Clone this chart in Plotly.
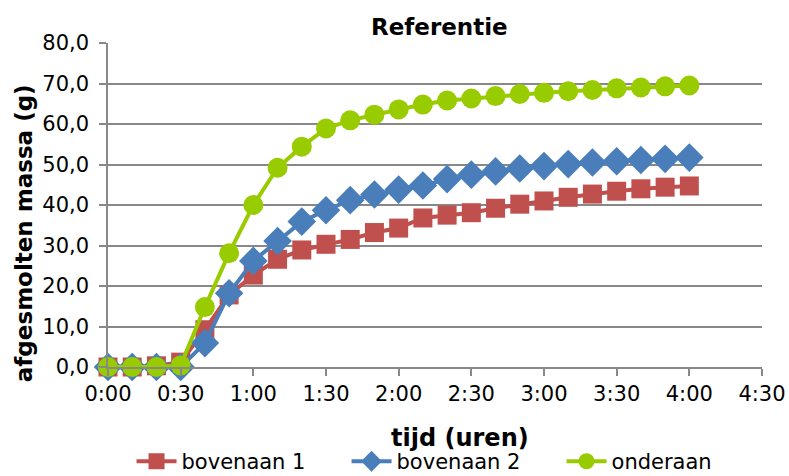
import plotly.graph_objects as go

minutes = [0, 10, 20, 30, 40, 50, 60, 70, 80, 90, 100, 110, 120,
           130, 140, 150, 160, 170, 180, 190, 200, 210, 220, 230, 240]

bovenaan_1 = [0.0, 0.0, 0.3, 1.2, 9.2, 17.8, 22.7, 26.6, 28.9, 30.3, 31.5, 33.2, 34.3,
              36.8, 37.5, 38.1, 39.2, 40.2, 41.0, 41.9, 42.7, 43.4, 44.0, 44.4, 44.7]
bovenaan_2 = [0.0, 0.0, 0.0, 0.0, 5.9, 18.2, 26.2, 31.1, 35.9, 38.7, 41.2, 42.6, 43.8,
              44.8, 46.4, 47.5, 48.3, 49.0, 49.6, 50.1, 50.5, 50.8, 51.1, 51.4, 51.7]
onderaan = [0.0, 0.0, 0.0, 0.4, 14.8, 28.1, 40.0, 49.2, 54.4, 58.9, 60.9, 62.3, 63.6,
            64.8, 65.8, 66.3, 66.9, 67.4, 67.7, 68.1, 68.4, 68.8, 69.0, 69.3, 69.5]

tick_vals = [0, 30, 60, 90, 120, 150, 180, 210, 240, 270]
tick_text = ["0:00", "0:30", "1:00", "1:30", "2:00", "2:30", "3:00", "3:30", "4:00", "4:30"]

FONT = "DejaVu Sans"
GRID = "#888888"

fig = go.Figure()
fig.add_trace(go.Scatter(x=minutes, y=bovenaan_1, name="bovenaan 1", mode="lines+markers",
                         line=dict(color="#C0504D", width=4), cliponaxis=False,
                         marker=dict(symbol="square", size=19, color="#C0504D")))
fig.add_trace(go.Scatter(x=minutes, y=bovenaan_2, name="bovenaan 2", mode="lines+markers",
                         line=dict(color="#4A7EBB", width=4), cliponaxis=False,
                         marker=dict(symbol="diamond", size=22, color="#4A7EBB")))
fig.add_trace(go.Scatter(x=minutes, y=onderaan, name="onderaan", mode="lines+markers",
                         line=dict(color="#99CC00", width=4), cliponaxis=False,
                         marker=dict(symbol="circle", size=20, color="#99CC00")))

fig.update_layout(
    width=789, height=476,
    margin=dict(l=108, r=27, t=43, b=109, autoexpand=False),
    paper_bgcolor="white", plot_bgcolor="white",
    separators=",.",
    font=dict(family=FONT, size=21, color="black"),
    showlegend=True,
    legend=dict(orientation="h", x=0.036, xanchor="left", y=-0.292, yanchor="middle",
                font=dict(size=21), itemwidth=40, tracegroupgap=0,
                entrywidth=160, entrywidthmode="pixels"),
    annotations=[
        dict(text="<b>Referentie</b>", x=0.507, y=1.0, xref="paper", yref="paper",
             xanchor="center", yanchor="bottom", yshift=1, showarrow=False,
             font=dict(size=23, family=FONT)),
        dict(text="<b>tijd (uren)</b>", x=0.538, y=-0.218, xref="paper", yref="paper",
             xanchor="center", yanchor="middle", showarrow=False,
             font=dict(size=24, family=FONT)),
        dict(text="<b>afgesmolten massa (g)</b>", x=-0.128, y=0.414, xref="paper", yref="paper",
             xanchor="center", yanchor="middle", textangle=-90, showarrow=False,
             font=dict(size=23, family=FONT)),
    ],
)

fig.update_xaxes(range=[0, 270], tickvals=tick_vals, ticktext=tick_text,
                 showgrid=False, zeroline=False, showline=True, linecolor=GRID, linewidth=1.5,
                 ticks="outside", ticklen=7, tickcolor=GRID, tickwidth=1.5,
                 tickfont=dict(size=21), fixedrange=True)
fig.update_yaxes(range=[0, 80], dtick=10, tickformat=".1f",
                 showgrid=True, gridcolor=GRID, gridwidth=1.5, zeroline=False,
                 showline=True, linecolor=GRID, linewidth=1.5,
                 ticks="outside", ticklen=7, tickcolor=GRID, tickwidth=1.5,
                 tickfont=dict(size=21), ticklabelstandoff=6, fixedrange=True)

fig.write_html("out.html")
